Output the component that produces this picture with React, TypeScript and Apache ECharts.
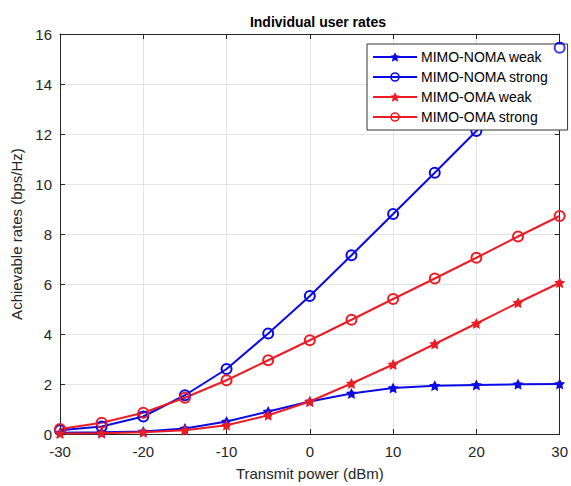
import React, { useEffect, useRef } from "react";
import * as echarts from "echarts";

const powers = [-30, -25, -20, -15, -10, -5, 0, 5, 10, 15, 20, 25, 30];
const nomaWeak = [0.05, 0.07, 0.1, 0.22, 0.5, 0.9, 1.3, 1.62, 1.84, 1.93, 1.96, 1.99, 2.0];
const nomaStrong = [0.15, 0.3, 0.7, 1.55, 2.6, 4.02, 5.52, 7.15, 8.8, 10.45, 12.12, 13.8, 15.45];
const omaWeak = [0.02, 0.03, 0.07, 0.15, 0.35, 0.75, 1.3, 2.02, 2.78, 3.6, 4.42, 5.25, 6.05];
const omaStrong = [0.2, 0.45, 0.85, 1.45, 2.15, 2.95, 3.75, 4.57, 5.4, 6.22, 7.05, 7.9, 8.72];
const seriesNames = ["MIMO-NOMA weak", "MIMO-NOMA strong", "MIMO-OMA weak", "MIMO-OMA strong"];

const STAR = "path://M0,-10 L3,-4 L9.5,-3 L4.8,1.6 L6,9 L0,5.5 L-6,9 L-4.8,1.6 L-9.5,-3 L-3,-4 Z";
const RING =
  "path://M0,-10 A10,10 0 1,1 0,10 A10,10 0 1,1 0,-10 Z M0,-6.6 A6.6,6.6 0 1,0 0,6.6 A6.6,6.6 0 1,0 0,-6.6 Z";
const FONT = "Liberation Sans, Arial, sans-serif";
const BLUE = "#0a0ae6";
const RED = "#ec1c24";

export default function App() {
  const ref = useRef<HTMLDivElement>(null);
  useEffect(() => {
    if (!ref.current) return;
    const chart = echarts.init(ref.current, undefined, { renderer: "svg" });
    const mk = (name: string, vals: number[], color: string, star: boolean) => ({
      name,
      type: "line",
      data: powers.map((p, i) => [p, vals[i]]),
      symbol: star ? STAR : RING,
      symbolSize: star ? 11 : 12,
      showAllSymbol: true,
      lineStyle: { color, width: 2 },
      itemStyle: { color, borderWidth: 0 },
      clip: false,
      z: 3,
    });
    const last = powers.length - 1;
    const axisLine = { show: true, onZero: false, lineStyle: { color: "#262626", width: 1 } };
    const tick = { show: true, inside: true, length: 5, lineStyle: { color: "#262626" } };
    chart.setOption({
      animation: false,
      textStyle: { fontFamily: FONT },
      title: {
        text: "Individual user rates",
        left: 313,
        textAlign: "center",
        top: 10,
        textStyle: { fontSize: 14, fontWeight: "bold", color: "#000", fontFamily: FONT },
      },
      grid: { left: 60, right: 5, top: 34, bottom: 51, containLabel: false },
      legend: {
        data: seriesNames,
        orient: "vertical",
        left: 367,
        top: 44,
        itemWidth: 44,
        itemHeight: 12,
        itemGap: 6,
        padding: [6, 19, 6, 5],
        borderColor: "#333",
        borderWidth: 1,
        borderRadius: 0,
        backgroundColor: "#fff",
        textStyle: { fontSize: 14, color: "#000", fontFamily: FONT, padding: [0, 0, 0, -1] },
      },
      xAxis: [
        {
          type: "value",
          min: -30,
          max: 30,
          interval: 10,
          name: "Transmit power (dBm)",
          nameLocation: "middle",
          nameGap: 32,
          nameTextStyle: { fontSize: 15, color: "#262626", fontFamily: FONT },
          axisLine,
          axisTick: tick,
          axisLabel: { fontSize: 15, color: "#262626", margin: 10, fontFamily: FONT },
          splitLine: { show: true, lineStyle: { color: "#e3e3e3", width: 1 } },
        },
        {
          type: "value",
          position: "top",
          min: -30,
          max: 30,
          interval: 10,
          axisLine,
          axisTick: tick,
          axisLabel: { show: false },
          splitLine: { show: false },
        },
      ],
      yAxis: [
        {
          type: "value",
          min: 0,
          max: 16,
          interval: 2,
          name: "Achievable rates (bps/Hz)",
          nameLocation: "middle",
          nameGap: 27,
          nameTextStyle: { fontSize: 15, color: "#262626", fontFamily: FONT },
          axisLine,
          axisTick: tick,
          axisLabel: { fontSize: 15, color: "#262626", margin: 8, fontFamily: FONT },
          splitLine: { show: true, lineStyle: { color: "#e3e3e3", width: 1 } },
        },
        {
          type: "value",
          position: "right",
          min: 0,
          max: 16,
          interval: 2,
          axisLine,
          axisTick: tick,
          axisLabel: { show: false },
          splitLine: { show: false },
        },
      ],
      series: [
        mk(seriesNames[0], nomaWeak, BLUE, true),
        mk(seriesNames[1], nomaStrong, BLUE, false),
        mk(seriesNames[2], omaWeak, RED, true),
        mk(seriesNames[3], omaStrong, RED, false),
        {
          type: "scatter",
          data: [[powers[last], nomaStrong[last]]],
          symbol: RING,
          symbolSize: 12,
          itemStyle: { color: BLUE },
          clip: false,
          z: 10,
          silent: true,
        },
      ],
    });
    return () => chart.dispose();
  }, []);
  return <div ref={ref} style={{ width: 571, height: 486, position: "absolute", left: 0, top: 0, background: "#fff" }} />;
}
